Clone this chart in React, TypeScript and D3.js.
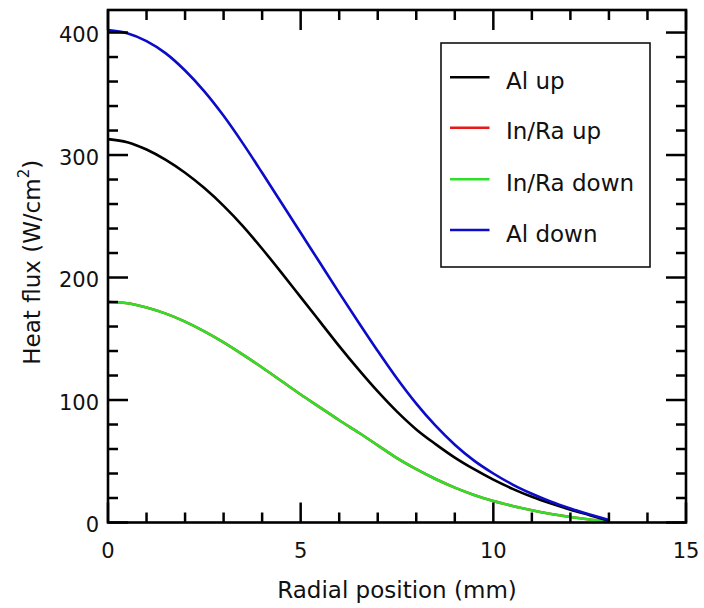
import React from "react";
import * as d3 from "d3";

const radialMm = [0, 0.5, 1, 1.5, 2, 2.5, 3, 3.5, 4, 4.5, 5, 5.5, 6, 6.5, 7, 7.5, 8, 8.5, 9, 9.5, 10, 10.5, 11, 11.5, 12, 12.5, 13];
const alUp = [313, 310.5, 304.5, 296, 285.5, 273, 258.5, 242, 223.5, 204, 184, 164, 144, 125, 107, 90.5, 76, 64, 53, 43.5, 35, 27.5, 21, 15.5, 10.5, 6, 1.5];
const inRaUp = [180, 179, 175.5, 170.5, 164, 156, 147, 137, 126.5, 115.5, 104.5, 94, 83.5, 73.5, 63, 52.5, 43.5, 35.5, 28.5, 22.5, 17.5, 13.5, 10, 7, 4.5, 2.5, 1];
const inRaDown = [180, 179, 175.5, 170.5, 164, 156, 147, 137, 126.5, 115.5, 104.5, 94, 83.5, 73.5, 63, 52.5, 43.5, 35.5, 28.5, 22.5, 17.5, 13.5, 10, 7, 4.5, 2.5, 1];
const alDown = [402, 399.5, 393, 383, 369, 352, 332, 309.5, 285.5, 261, 236.5, 212, 187.5, 163.5, 140, 117.5, 97, 79, 63.5, 50.5, 40, 31, 23.5, 17, 11.5, 6.5, 2];

const xMajorTicks = [0, 5, 10, 15];
const xMinorTicks = [1, 2, 3, 4, 6, 7, 8, 9, 11, 12, 13, 14];
const yMajorTicks = [0, 100, 200, 300, 400];
const yMinorTicks = [20, 40, 60, 80, 120, 140, 160, 180, 220, 240, 260, 280, 320, 340, 360, 380];

const seriesNames = ["Al up", "In/Ra up", "In/Ra down", "Al down"];
const seriesColors = ["#000000", "#e81818", "#2ee02a", "#0c0cc8"];
const seriesValues = [alUp, inRaUp, inRaDown, alDown];
const drawOrder = [1, 2, 0, 3];

const W = 704;
const H = 608;
const left = 108;
const right = 686;
const top = 10;
const bottom = 522.5;
const FONT = "'DejaVu Sans', Verdana, sans-serif";

export default function App() {
  const x = d3.scaleLinear().domain([0, 15]).range([left, right]);
  const y = d3.scaleLinear().domain([0, 418.4]).range([bottom, top]);
  const line = d3
    .line<number>()
    .x((_, i) => x(radialMm[i]))
    .y((d) => y(d))
    .curve(d3.curveMonotoneX);

  const major = 20;
  const minor = 10;
  const tickW = 2.5;

  const legendX = 441;
  const legendY = 43;
  const legendW = 209;
  const legendH = 224;
  const legendRowY = [77.3, 127.7, 179.3, 230];

  return (
    <div style={{ position: "absolute", left: 0, top: 0 }}>
      <svg width={W} height={H} style={{ display: "block", background: "#fff" }}>
        <rect x={0} y={0} width={W} height={H} fill="#fff" />
        {drawOrder.map((si) => (
          <path
            key={seriesNames[si]}
            d={line(seriesValues[si]) || ""}
            fill="none"
            stroke={seriesColors[si]}
            strokeWidth={2.6}
            strokeLinejoin="round"
          />
        ))}
        <g stroke="#000" strokeWidth={tickW}>
          {xMajorTicks.map((t) => (
            <g key={"xM" + t}>
              <line x1={x(t)} x2={x(t)} y1={bottom} y2={bottom - major} />
              <line x1={x(t)} x2={x(t)} y1={top} y2={top + major} />
            </g>
          ))}
          {xMinorTicks.map((t) => (
            <g key={"xm" + t}>
              <line x1={x(t)} x2={x(t)} y1={bottom} y2={bottom - minor} />
              <line x1={x(t)} x2={x(t)} y1={top} y2={top + minor} />
            </g>
          ))}
          {yMajorTicks.map((t) => (
            <g key={"yM" + t}>
              <line x1={left} x2={left + major} y1={y(t)} y2={y(t)} />
              <line x1={right} x2={right - major} y1={y(t)} y2={y(t)} />
            </g>
          ))}
          {yMinorTicks.map((t) => (
            <g key={"ym" + t}>
              <line x1={left} x2={left + minor} y1={y(t)} y2={y(t)} />
              <line x1={right} x2={right - minor} y1={y(t)} y2={y(t)} />
            </g>
          ))}
        </g>
        <rect
          x={left}
          y={top}
          width={right - left}
          height={bottom - top}
          fill="none"
          stroke="#000"
          strokeWidth={2.6}
        />
        <g fontFamily={FONT} fontSize={21} fill="#111">
          {xMajorTicks.map((t) => (
            <text key={"xl" + t} x={x(t)} y={558} textAnchor="middle">
              {t}
            </text>
          ))}
          {yMajorTicks.map((t) => (
            <text key={"yl" + t} x={99} y={y(t) + 9.5} textAnchor="end">
              {t}
            </text>
          ))}
        </g>
        <text x={(left + right) / 2} y={598} textAnchor="middle" fontFamily={FONT} fontSize={23} fill="#111">
          Radial position (mm)
        </text>
        <text
          transform={`translate(39.5, ${(top + bottom) / 2 - 4}) rotate(-90)`}
          textAnchor="middle"
          fontFamily={FONT}
          fontSize={23}
          fill="#111"
        >
          Heat flux (W/cm
          <tspan fontSize={15} dy={-11}>2</tspan>
          <tspan dy={11}>)</tspan>
        </text>
        <rect x={legendX} y={legendY} width={legendW} height={legendH} fill="#fff" stroke="#111" strokeWidth={1.6} />
        {seriesNames.map((name, i) => (
          <g key={"lg" + name}>
            <line x1={450} x2={489.5} y1={legendRowY[i]} y2={legendRowY[i]} stroke={seriesColors[i]} strokeWidth={2.6} />
            <text x={506} y={legendRowY[i] + 11.5} fontFamily={FONT} fontSize={23} fill="#111">
              {name}
            </text>
          </g>
        ))}
      </svg>
    </div>
  );
}
